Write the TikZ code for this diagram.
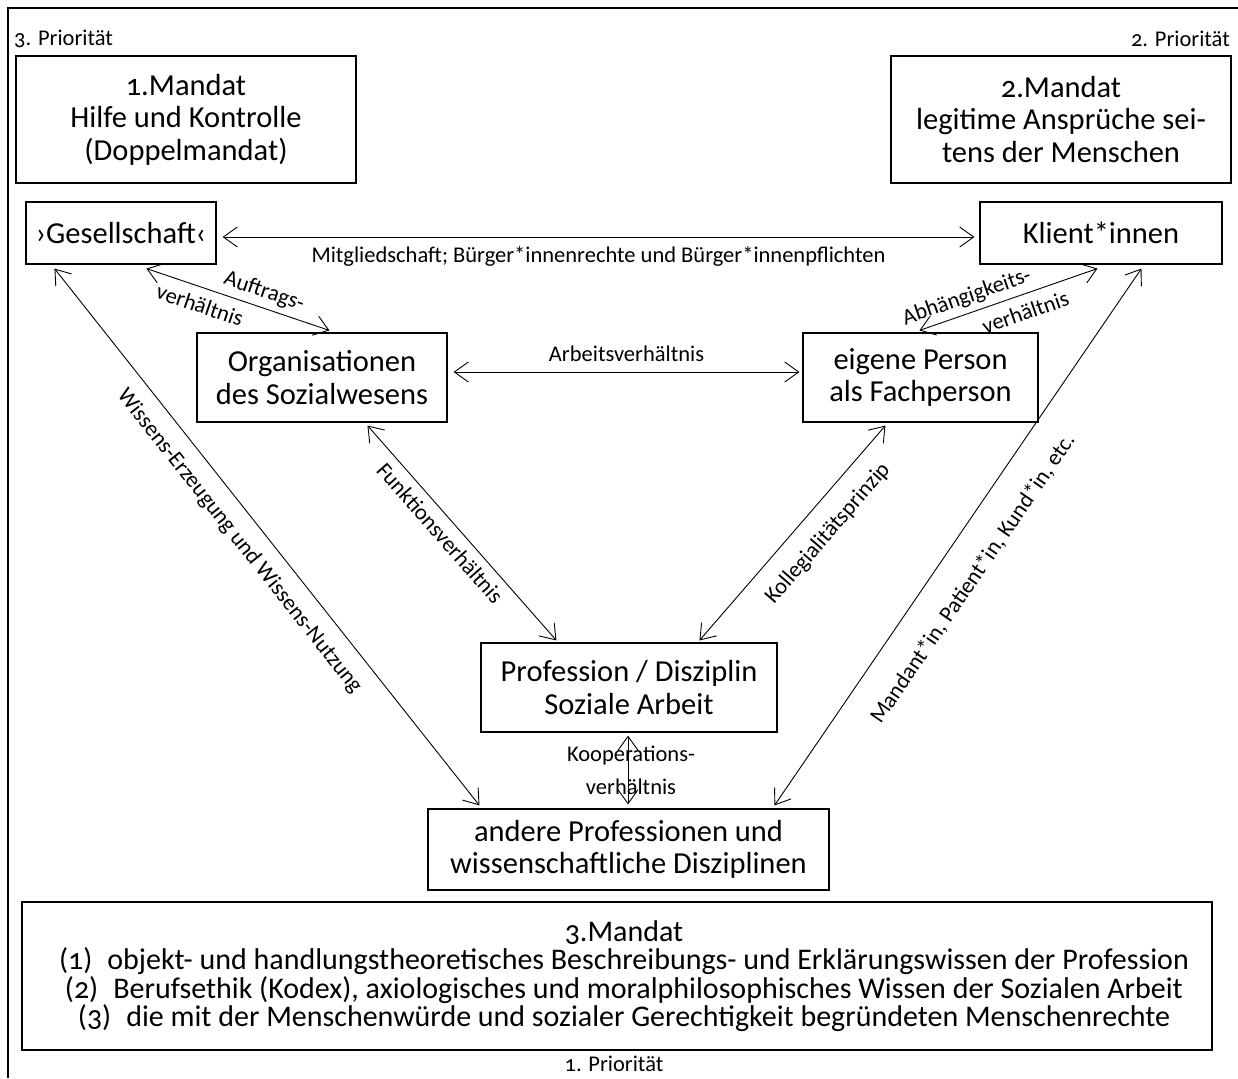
\documentclass[tikz,border=0pt]{standalone}
\usepackage{fontspec}
\setmainfont{Carlito}[Numbers=OldStyle]
\usetikzlibrary{arrows.meta,calc}
\begin{document}
\begin{tikzpicture}[x=1pt,y=-1pt,
  box/.style={draw,line width=1.1pt,inner sep=0pt,align=center,font=\fontsize{30.5}{32.5}\selectfont},
  lab/.style={font=\fontsize{22.5}{26}\selectfont,inner sep=2pt},
  twolab/.style={lab,font=\fontsize{22.5}{35}\selectfont},
  conn/.style={{Straight Barb[length=14pt,width=20pt]}-{Straight Barb[length=14pt,width=20pt]},line width=0.9pt}
]
\useasboundingbox (0,0) rectangle (1238,1078);
\draw[line width=2pt] (8,1078) -- (8,8) -- (1238,8);

\node[lab,anchor=west] (p3) at (12,39) {3. Priorität};
\node[lab,anchor=east] (p2) at (1232,39) {2. Priorität};
\node[lab] (p1) at (614,1064) {1. Priorität};

\node[box,minimum width=340,minimum height=127] (m1) at (186,119.5) {1.Mandat\\Hilfe und Kontrolle\\(Doppelmandat)};
\node[box,minimum width=340,minimum height=127] (m2) at (1061,119.5) {2.Mandat\\legitime Ansprüche sei-\\tens der Menschen};
\node[box,minimum width=190,minimum height=62] (ges) at (121,233) {›Gesellschaft‹};
\node[box,minimum width=242,minimum height=62] (kli) at (1101,233) {Klient*innen};
\node[box,minimum width=250,minimum height=89] (org) at (322,377.5) {Organisationen\\des Sozialwesens};
\node[box,minimum width=235,minimum height=89] (eig) at (920.5,377.5) {eigene Person\\als Fachperson};
\node[box,minimum width=296,minimum height=89] (pro) at (629,687.5) {Profession / Disziplin\\Soziale Arbeit};
\node[box,minimum width=401,minimum height=81] (and) at (628.5,849.5) {\raisebox{-4pt}{\parbox{400pt}{\centering andere Professionen und\\wissenschaftliche Disziplinen}}};
\node[box,minimum width=1190,minimum height=148,font=\fontsize{30}{28.5}\selectfont] (m3) at (617,976) {\hspace*{14pt}3.Mandat\\\hspace*{14pt}(1)\enspace objekt- und handlungstheoretisches Beschreibungs- und Erklärungswissen der Profession\\\hspace*{14pt}(2)\enspace Berufsethik (Kodex), axiologisches und moralphilosophisches Wissen der Sozialen Arbeit\\\hspace*{14pt}(3)\enspace die mit der Menschenwürde und sozialer Gerechtigkeit begründeten Menschenrechte};

\draw[conn] ($(ges.east)+(6,4)$) -- node[lab,below=7pt] {Mitgliedschaft; Bürger*innenrechte und Bürger*innenpflichten} ($(kli.west)+(-5,4)$);
\draw[conn] ($(ges.south west)+(121,4)$) -- node[twolab,sloped,pos=0.46,align=left] {\hspace*{60pt}Auftrags-\\verhältnis} ($(org.north west)+(133,-2)$);
\draw[conn] ($(kli.south west)+(118,4)$) -- node[twolab,sloped,pos=0.63,align=right] {Abhängigkeits-\hspace*{28pt}\\verhältnis} ($(eig.north west)+(117,-2)$);
\draw[conn] ($(org.east)+(6,-5.5)$) -- node[lab,above=8pt] {Arbeitsverhältnis} ($(eig.west)+(-3,-5.5)$);
\draw[conn] ($(ges.south west)+(29,4)$) -- node[lab,sloped,pos=0.48,below=12pt] {Wissens-Erzeugung und Wissens-Nutzung} ($(and.north west)+(52,-3)$);
\draw[conn] ($(org.south west)+(171,3)$) -- node[lab,sloped,pos=0.45,below=6pt] {Funktionsverhältnis} ($(pro.north west)+(76,-2)$);
\draw[conn] ($(pro.north west)+(219,-2)$) -- node[lab,sloped,pos=0.58,below=15pt] {Kollegialitätsprinzip} ($(eig.south west)+(83,3)$);
\draw[conn] ($(and.north west)+(347,-3)$) -- node[lab,sloped,pos=0.46,below=24pt] {Mandant*in, Patient*in, Kund*in, etc.} ($(kli.south west)+(162,4)$);
\draw[conn] ($(pro.south)+(-1,3)$) -- node[lab,align=center,xshift=3pt,font=\fontsize{22.5}{33}\selectfont] {Kooperations-\\verhältnis} ($(and.north)+(-0.5,-4)$);
\end{tikzpicture}
\end{document}
